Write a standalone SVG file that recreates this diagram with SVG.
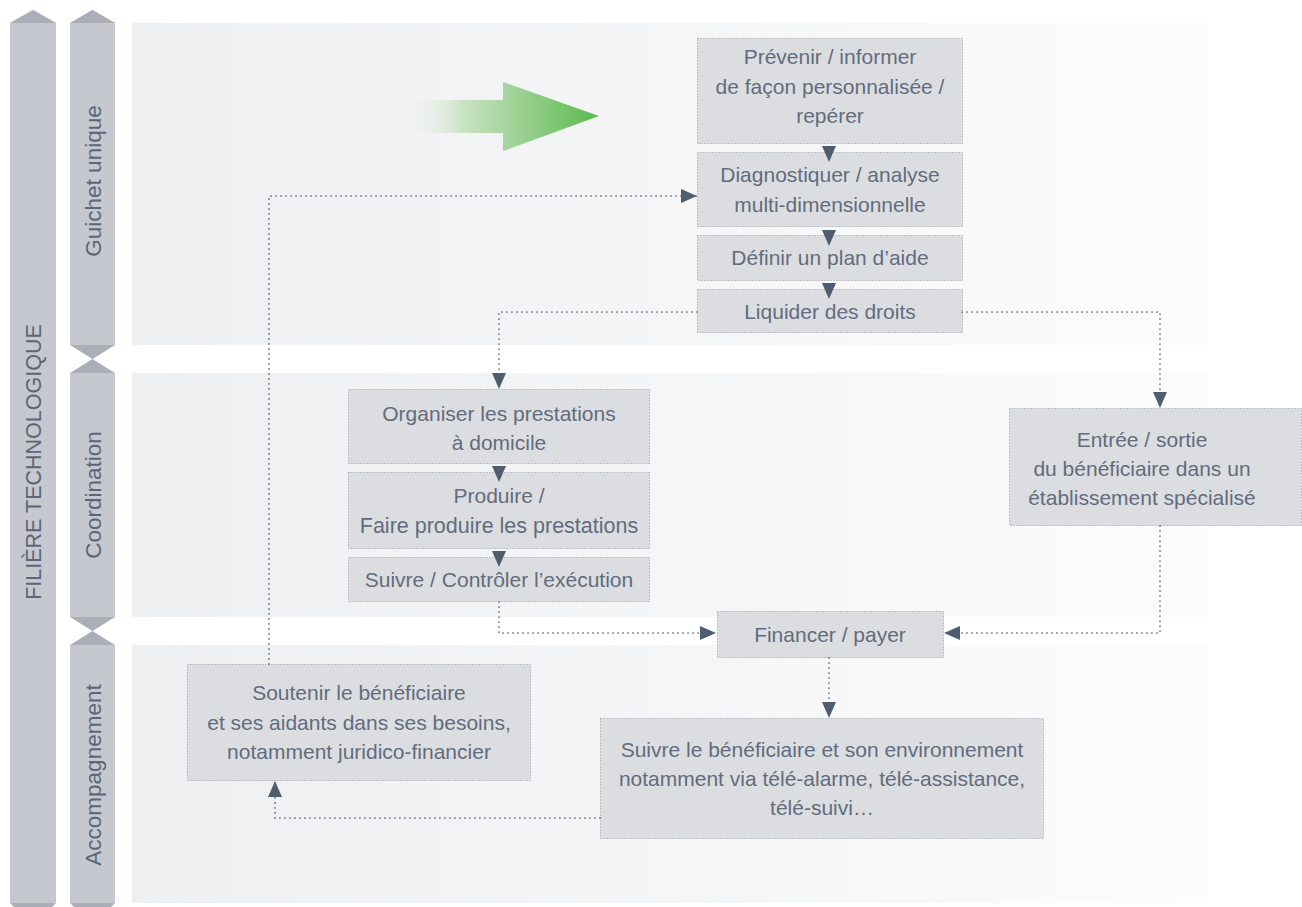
<svg xmlns="http://www.w3.org/2000/svg" width="1302" height="907" viewBox="0 0 1302 907">
<defs>
<linearGradient id="bandGrad" x1="132" y1="0" x2="1208" y2="0" gradientUnits="userSpaceOnUse">
<stop offset="0" stop-color="#eeeff1"/>
<stop offset="1" stop-color="#fcfcfc"/>
</linearGradient>
<linearGradient id="greenGrad" x1="405" y1="0" x2="599" y2="0" gradientUnits="userSpaceOnUse">
<stop offset="0" stop-color="#f0f1ef" stop-opacity="0"/>
<stop offset="0.3" stop-color="#c9e3c3"/>
<stop offset="0.5" stop-color="#a9d6a1"/>
<stop offset="1" stop-color="#5cb94f"/>
</linearGradient>
<marker id="ah" markerUnits="userSpaceOnUse" markerWidth="16" markerHeight="14" viewBox="0 0 16 14" refX="16" refY="7" orient="auto">
<path d="M0,0 L16,7 L0,14 z" fill="#4f5d70"/>
</marker>
<style>
.band{fill:url(#bandGrad)}
.col{fill:#c5c8cf}
.tri{fill:#abaeb7}
.box{fill:#dcdde0;stroke:#8f939c;stroke-width:1;stroke-dasharray:1 2}
.t{font-family:"Liberation Sans",Arial,sans-serif;font-size:21px;fill:#626c7e;text-anchor:middle}
.side{font-family:"Liberation Sans",Arial,sans-serif;font-size:21.5px;fill:#5b6678;text-anchor:middle}
.sc{font-size:22.5px}
.c{fill:none;stroke:#5b6678;stroke-width:1.7;stroke-dasharray:0.1 4.9;stroke-linecap:round;marker-end:url(#ah)}
.cs{fill:none;stroke:none;marker-end:url(#ah)}
</style>
</defs>

<g id="background">
<rect class="band" x="132" y="23" width="1076" height="322"/>
<rect class="band" x="132" y="373" width="1076" height="244"/>
<rect class="band" x="132" y="645" width="1076" height="258"/>
<polygon id="green-arrow" points="405,100 503,100 503,82 599,116 503,151 503,133 405,133" fill="url(#greenGrad)"/>
</g>

<g id="filiere">
<polygon class="col" points="10,23 33,10 56,23 56,903 10,903"/>
<polygon class="tri" points="33,10 56,23 10,23"/>
<polygon class="tri" points="10,903 56,903 52,907 14,907"/>
<text class="side" transform="translate(41,462) rotate(-90)">FILIÈRE TECHNOLOGIQUE</text>
</g>

<g id="guichet-unique">
<polygon class="col" points="70,23 92.5,10 115,23 115,345 70,345"/>
<polygon class="tri" points="92.5,10 115,23 70,23"/>
<polygon class="tri" points="70,345 115,345 92.5,359"/>
<text class="side sc" transform="translate(101,181) rotate(-90)">Guichet unique</text>
</g>

<g id="coordination">
<polygon class="col" points="70,373 115,373 115,617 70,617"/>
<polygon class="tri" points="92.5,359 115,373 70,373"/>
<polygon class="tri" points="70,617 115,617 92.5,631"/>
<text class="side sc" transform="translate(101,495) rotate(-90)">Coordination</text>
</g>

<g id="accompagnement">
<polygon class="col" points="70,645 115,645 115,903 70,903"/>
<polygon class="tri" points="92.5,631 115,645 70,645"/>
<polygon class="tri" points="70,903 115,903 111,907 74,907"/>
<text class="side sc" transform="translate(101,775) rotate(-90)">Accompagnement</text>
</g>

<g id="n-prevenir">
<rect class="box" x="697.5" y="38.5" width="265" height="105"/>
<text class="t" x="830" y="64">Prévenir / informer</text>
<text class="t" x="830" y="94">de façon personnalisée /</text>
<text class="t" x="830" y="123">repérer</text>
</g>

<g id="n-diagnostiquer">
<rect class="box" x="697.5" y="152.5" width="265" height="74"/>
<text class="t" x="830" y="182">Diagnostiquer / analyse</text>
<text class="t" x="830" y="212">multi-dimensionnelle</text>
</g>

<g id="n-definir">
<rect class="box" x="697.5" y="235.5" width="265" height="45"/>
<text class="t" x="830" y="265">Définir un plan d’aide</text>
</g>

<g id="n-liquider">
<rect class="box" x="697.5" y="289.5" width="265" height="43"/>
<text class="t" x="830" y="319">Liquider des droits</text>
</g>

<g id="n-organiser">
<rect class="box" x="348.5" y="389.5" width="301" height="74"/>
<text class="t" x="499" y="421">Organiser les prestations</text>
<text class="t" x="499" y="450">à domicile</text>
</g>

<g id="n-produire">
<rect class="box" x="348.5" y="472.5" width="301" height="76"/>
<text class="t" x="499" y="503">Produire /</text>
<text class="t" x="499" y="533" style="font-size:21.5px">Faire produire les prestations</text>
</g>

<g id="n-suivre-exec">
<rect class="box" x="348.5" y="557.5" width="301" height="44"/>
<text class="t" x="499" y="587">Suivre / Contrôler l’exécution</text>
</g>

<g id="n-entree">
<rect class="box" x="1009.5" y="408.5" width="292" height="117"/>
<text class="t" x="1142" y="447">Entrée / sortie</text>
<text class="t" x="1142" y="476">du bénéficiaire dans un</text>
<text class="t" x="1142" y="505">établissement spécialisé</text>
</g>

<g id="n-financer">
<rect class="box" x="717.5" y="611.5" width="226" height="46"/>
<text class="t" x="830" y="642">Financer / payer</text>
</g>

<g id="n-soutenir">
<rect class="box" x="187.5" y="664.5" width="343" height="116"/>
<text class="t" x="359" y="700">Soutenir le bénéficiaire</text>
<text class="t" x="359" y="730">et ses aidants dans ses besoins,</text>
<text class="t" x="359" y="759">notamment juridico-financier</text>
</g>

<g id="n-suivre-benef">
<rect class="box" x="600.5" y="718.5" width="443" height="120"/>
<text class="t" x="822" y="757">Suivre le bénéficiaire et son environnement</text>
<text class="t" x="822" y="786">notamment via télé-alarme, télé-assistance,</text>
<text class="t" x="822" y="815">télé-suivi…</text>
</g>

<g id="connectors">
<path class="cs" d="M829,145 L829,162"/>
<path class="cs" d="M829,229 L829,246"/>
<path class="cs" d="M829,282 L829,299"/>
<path class="cs" d="M499,465 L499,482"/>
<path class="cs" d="M499,550 L499,567"/>
<path class="c" d="M269,664 L269,196 L697,196"/>
<path class="c" d="M697,312 L499,312 L499,389"/>
<path class="c" d="M962,312 L1160,312 L1160,408"/>
<path class="c" d="M1160,526 L1160,633 L944,633"/>
<path class="c" d="M499,602 L499,633 L716,633"/>
<path class="c" d="M829,658 L829,718"/>
<path class="c" d="M600,818 L275,818 L275,781"/>
</g>
</svg>
